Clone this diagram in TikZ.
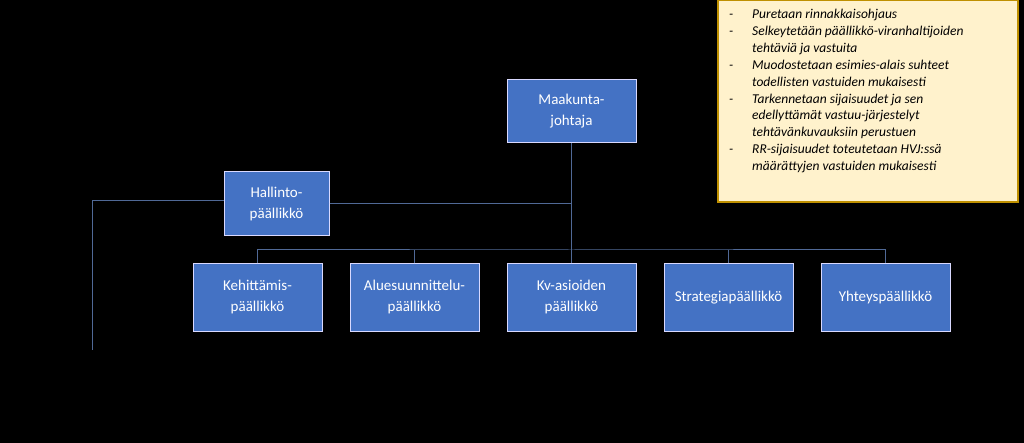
\documentclass[tikz,border=0pt]{standalone}
\usepackage{fontspec}
\setmainfont{Carlito}
\begin{document}
\begin{tikzpicture}[x=1pt,y=-1pt,
  box/.style={draw=white!85!blue,line width=1pt,fill=blue!45!cyan!40!black!0,fill={rgb,255:red,68;green,114;blue,196},text=white,font=\fontsize{15}{21}\selectfont,align=center,inner sep=0pt},
  conn/.style={draw={rgb,255:red,80;green,105;blue,150},line width=1pt}]
\useasboundingbox[fill=black] (0,0) rectangle (1024,443);
\node[box,minimum width=129pt,minimum height=63pt] (mj) at (571.5,111.5) {Maakunta-\\johtaja};
\node[box,minimum width=105pt,minimum height=64pt] (hp) at (276.5,204) {Hallinto-\\päällikkö};
\foreach \n/\x/\t in {k/257.5/{Kehittämis-\\päällikkö},a/414.5/{Aluesuunnittelu-\\päällikkö},kv/571.5/{Kv-asioiden\\päällikkö},s/728.5/{Strategiapäällikkö},y/885.5/{Yhteyspäällikkö}}
  \node[box,minimum width=129pt,minimum height=67pt] (\n) at (\x,297.5) {\t};
\coordinate (bus) at (571.5,250);
\coordinate (hj) at (571.5,204);
\coordinate (le) at (92,350);
\draw[conn] (mj.south) -- (bus);
\draw[conn] (hp.east) -- (hj);
\draw[conn] (k.north) |- (bus) -| (y.north);
\draw[conn] (a.north) -- (a.north |- bus);
\draw[conn] (kv.north) -- (bus);
\draw[conn] (s.north) -- (s.north |- bus);
\draw[conn] (hp.west |- 0,201) -| (le);
\node[draw={rgb,255:red,191;green,144;blue,0},line width=1.2pt,fill={rgb,255:red,255;green,242;blue,204},minimum width=300pt,minimum height=202pt,inner sep=0pt] (note) at (868,101) {};
\node[anchor=north west,inner sep=0pt,align=left,font=\fontsize{13.5}{16.9}\selectfont\itshape] (nt) at (729,9) {%
\makebox[23pt][l]{-}Puretaan rinnakkaisohjaus\\
\makebox[23pt][l]{-}Selkeytetään päällikkö-viranhaltijoiden\\
\hspace*{23pt}tehtäviä ja vastuita\\
\makebox[23pt][l]{-}Muodostetaan esimies-alais suhteet\\
\hspace*{23pt}todellisten vastuiden mukaisesti\\
\makebox[23pt][l]{-}Tarkennetaan sijaisuudet ja sen\\
\hspace*{23pt}edellyttämät vastuu-järjestelyt\\
\hspace*{23pt}tehtävänkuvauksiin perustuen\\
\makebox[23pt][l]{-}RR-sijaisuudet toteutetaan HVJ:ssä\\
\hspace*{23pt}määrättyjen vastuiden mukaisesti};
\end{tikzpicture}
\end{document}
